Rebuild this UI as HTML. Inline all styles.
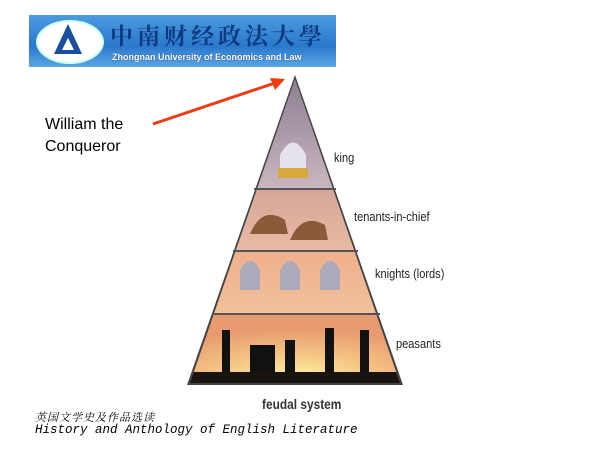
<!DOCTYPE html>
<html><head><style>
body{margin:0;width:600px;height:452px;background:#fff;overflow:hidden;position:relative;font-family:"Liberation Sans",sans-serif}
.t{position:absolute;font-size:13px;line-height:15px;color:#222;font-family:"Liberation Sans",sans-serif;transform:scaleX(0.85);transform-origin:left}
</style></head><body>
<div style="position:absolute;left:29px;top:15px;width:307px;height:52px;background:linear-gradient(#4a9be0,#2a78cc 60%,#5aa6e4)"></div>
<div style="position:absolute;left:36px;top:20px;width:64px;height:40px;border-radius:50%;background:#fff;border:2px solid #cfe"></div>
<svg style="position:absolute;left:0;top:0" width="600" height="452">
<polygon points="68,24 54,54 82,54" fill="#1a4fa0"/>
<polygon points="68,38 62,50 74,50" fill="#fff"/>
<defs>
<linearGradient id="g1" x1="0" y1="0" x2="0" y2="1"><stop offset="0" stop-color="#8a7a8e"/><stop offset="1" stop-color="#c9b6c0"/></linearGradient>
<linearGradient id="g2" x1="0" y1="0" x2="0" y2="1"><stop offset="0" stop-color="#d5a799"/><stop offset="1" stop-color="#e8b9a2"/></linearGradient>
<linearGradient id="g3" x1="0" y1="0" x2="0" y2="1"><stop offset="0" stop-color="#eeb08c"/><stop offset="1" stop-color="#f2c09a"/></linearGradient>
<radialGradient id="g4" cx="0.5" cy="0.9" r="0.7"><stop offset="0" stop-color="#fff3a0"/><stop offset="0.5" stop-color="#f4c483"/><stop offset="1" stop-color="#e89b70"/></radialGradient>
</defs>
<polygon points="295,75 403,385 187,385" fill="#444"/>
<clipPath id="c"><polygon points="295,79 400,383 190,383"/></clipPath>
<g clip-path="url(#c)">
<rect x="180" y="70" width="230" height="118" fill="url(#g1)"/>
<rect x="180" y="190" width="230" height="60" fill="url(#g2)"/>
<rect x="180" y="252" width="230" height="61" fill="url(#g3)"/>
<rect x="180" y="315" width="230" height="70" fill="url(#g4)"/>
<rect x="180" y="372" width="230" height="13" fill="#1a1410"/>
</g>
<g stroke="#555" stroke-width="2"><line x1="254" y1="189" x2="336" y2="189"/><line x1="233" y1="251" x2="358" y2="251"/><line x1="212" y1="314" x2="380" y2="314"/></g>
<path d="M280,175 L280,155 Q293,130 306,155 L306,175Z" fill="#e4e2ec"/>
<rect x="278" y="168" width="30" height="10" fill="#d7a93a"/>
<g fill="#8a5a3a"><path d="M250,234 Q262,205 285,220 L288,234Z"/><path d="M290,240 Q302,212 325,225 L328,240Z"/></g>
<g fill="#aab"><path d="M240,290 L240,270 Q250,252 260,270 L260,290Z"/><path d="M280,290 L280,270 Q290,252 300,270 L300,290Z"/><path d="M320,290 L320,270 Q330,252 340,270 L340,290Z"/></g>
<g fill="#111"><rect x="222" y="330" width="8" height="42"/><rect x="250" y="345" width="25" height="27"/><rect x="285" y="340" width="10" height="32"/><rect x="325" y="328" width="9" height="44"/><rect x="360" y="330" width="9" height="42"/></g>
<line x1="153" y1="124" x2="275" y2="83" stroke="#f03a12" stroke-width="3"/>
<polygon points="285,79 270,78 275,90" fill="#f03a12"/>
</svg>
<div style="position:absolute;left:110px;top:22px;font:bold 23px/26px 'Noto Serif CJK SC',serif;color:#103a80;letter-spacing:4px">中南财经政法大學</div>
<div style="position:absolute;left:112px;top:52px;font:bold 9px/10px 'Liberation Sans',sans-serif;color:#fff;text-shadow:0 0 1px #124">Zhongnan University of Economics and Law</div>
<div style="position:absolute;left:45px;top:114px;font-size:16px;line-height:22px;color:#000">William the<br>Conqueror</div>
<div class="t" style="left:334px;top:150px">king</div>
<div class="t" style="left:354px;top:209px">tenants-in-chief</div>
<div class="t" style="left:375px;top:266px">knights (lords)</div>
<div class="t" style="left:396px;top:336px">peasants</div>
<div class="t" style="left:262px;top:397px;font-size:14px;font-weight:bold;color:#333">feudal system</div>
<div style="position:absolute;left:35px;top:411px;font:italic 11px/13px 'Noto Serif CJK SC',serif;color:#000;letter-spacing:1px">英国文学史及作品选读</div>
<div style="position:absolute;left:35px;top:424px;font:italic 12.5px/13px 'Liberation Mono',monospace;color:#000">History and Anthology of English Literature</div>
</body></html>
